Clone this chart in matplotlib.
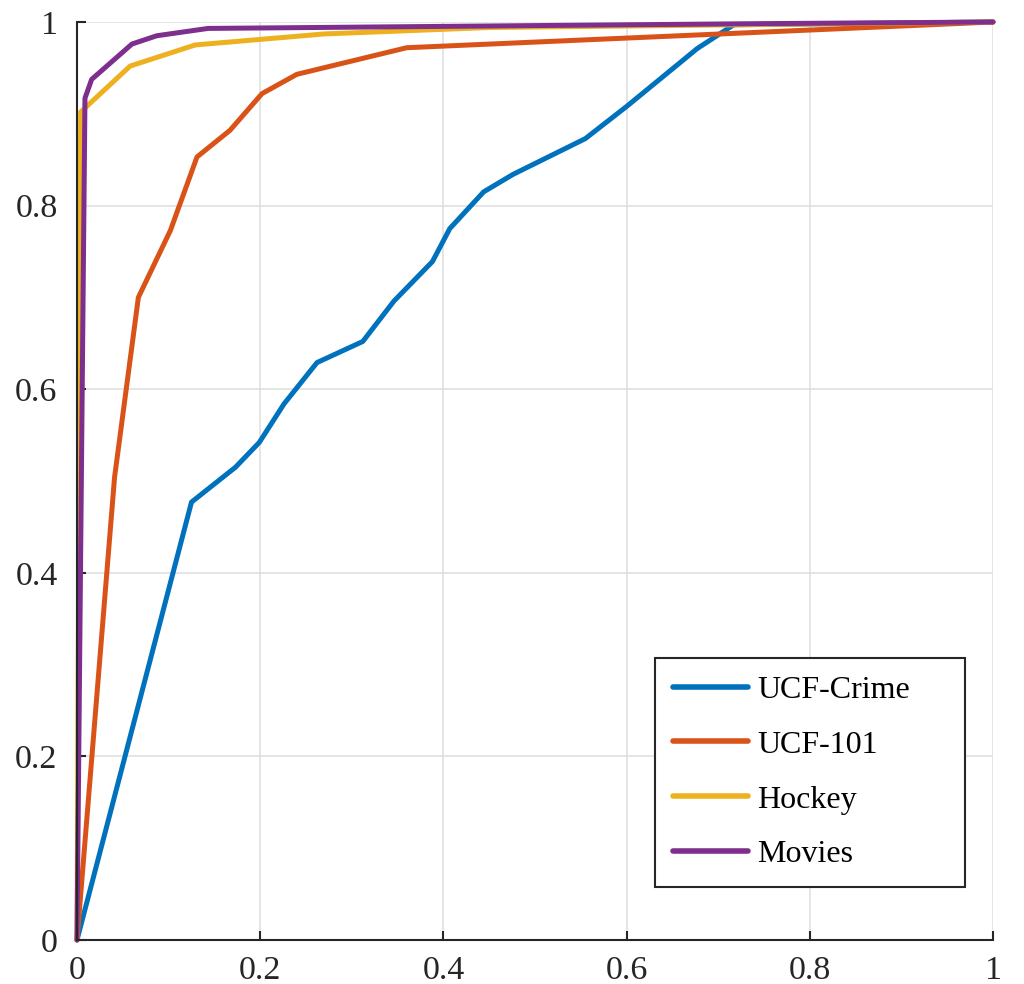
import matplotlib
matplotlib.use('Agg')
import matplotlib.pyplot as plt

# ROC points (false positive rate, true positive rate) per dataset
crime_fpr = [0.0, 0.125, 0.173, 0.199, 0.226, 0.262, 0.312, 0.346, 0.388, 0.407, 0.444, 0.476, 0.555, 0.600, 0.677, 0.717, 1.0]
crime_tpr = [0.0, 0.477, 0.515, 0.542, 0.584, 0.629, 0.652, 0.696, 0.739, 0.775, 0.815, 0.834, 0.873, 0.908, 0.971, 0.997, 1.0]

ucf101_fpr = [0.0, 0.041, 0.067, 0.102, 0.131, 0.167, 0.202, 0.240, 0.360, 1.0]
ucf101_tpr = [0.0, 0.504, 0.700, 0.773, 0.853, 0.882, 0.922, 0.943, 0.972, 1.0]

hockey_fpr = [0.0, 0.004, 0.058, 0.129, 0.270, 0.450, 1.0]
hockey_tpr = [0.0, 0.902, 0.952, 0.975, 0.987, 0.994, 1.0]

movies_fpr = [0.0, 0.0087, 0.016, 0.060, 0.087, 0.143, 0.720, 1.0]
movies_tpr = [0.0, 0.917, 0.9375, 0.976, 0.985, 0.993, 0.998, 1.0]

labels = ['UCF-Crime', 'UCF-101', 'Hockey', 'Movies']
colors = ['#0072BD', '#D95319', '#EDB120', '#7E2F8E']
ticks = [0, 0.2, 0.4, 0.6, 0.8, 1]
tick_labels = ['0', '0.2', '0.4', '0.6', '0.8', '1']

plt.rcParams['font.family'] = ['Liberation Serif', 'DejaVu Serif']

fig = plt.figure(figsize=(10.24, 9.84), dpi=100)
ax = fig.add_axes([77/1024, 44/984, 916/1024, 918/984])

curves = [(crime_fpr, crime_tpr), (ucf101_fpr, ucf101_tpr),
          (hockey_fpr, hockey_tpr), (movies_fpr, movies_tpr)]
for (fpr, tpr), lab, c in zip(curves, labels, colors):
    ax.plot(fpr, tpr, color=c, lw=3.6, label=lab,
            solid_joinstyle='round', solid_capstyle='round', clip_on=False)

ax.set_xlim(0, 1)
ax.set_ylim(0, 1)
ax.set_xticks(ticks)
ax.set_xticklabels(tick_labels)
ax.set_yticks(ticks)
ax.set_yticklabels(tick_labels)
ax.grid(True, color='#dedede', lw=1.1)
ax.set_axisbelow(True)

for side in ['top', 'right']:
    ax.spines[side].set_visible(False)
for side in ['left', 'bottom']:
    ax.spines[side].set_color('#262626')
    ax.spines[side].set_linewidth(1.5)

ax.tick_params(direction='in', length=6.5, width=1.5, color='#262626',
               labelsize=24.5, labelcolor='#262626')
ax.tick_params(axis='x', pad=11)
ax.tick_params(axis='y', pad=14)

# legend box stretched to a fixed width, entries left-aligned
leg = ax.legend(loc='lower left', bbox_to_anchor=(0.631, 0.0577, 0.338, 0.25),
                mode='expand', borderaxespad=0, fontsize=23, handlelength=2.35,
                handletextpad=0.31, labelspacing=0.80, borderpad=0.55,
                fancybox=False, framealpha=1)
leg.get_frame().set_edgecolor('#262626')
leg.get_frame().set_linewidth(1.5)
for line in leg.get_lines():
    line.set_linewidth(4)

fig.savefig('out.png', dpi=100)
